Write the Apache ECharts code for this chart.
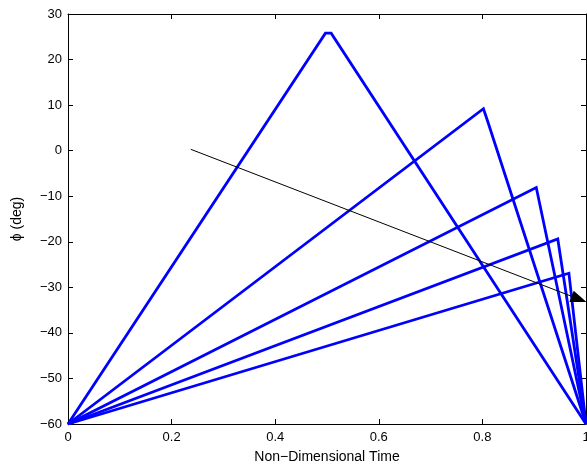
<!DOCTYPE html>
<html>
<head>
<meta charset="utf-8">
<script src="https://cdn.jsdelivr.net/npm/echarts@6/dist/echarts.min.js"></script>
<style>
  html, body { margin: 0; padding: 0; background: #fff; }
  #chart { width: 587px; height: 467px; }
</style>
</head>
<body>
<div id="chart"></div>
<script>
// Phase angle trajectories over non-dimensional time
const traj1 = [[0, -60], [0.497, 25.8], [0.508, 25.8], [1, -60]];
const traj2 = [[0, -60], [0.802, 9.2], [0.81, 6.5], [1, -60]];
const traj3 = [[0, -60], [0.904, -8.1], [1, -60]];
const traj4 = [[0, -60], [0.9455, -19.4], [1, -60]];
const traj5 = [[0, -60], [0.967, -26.9], [1, -60]];
const trajectories = [traj1, traj2, traj3, traj4, traj5];

// Trend arrow (start, end) in data units; the head is centred on the end point
const arrowStart = [0.237, 0.3];
const arrowEnd = [0.9865, -32.6];

const xTicks = { min: 0, max: 1, interval: 0.2 };
const yTicks = { min: -60, max: 30, interval: 10 };

const FONT = '"Liberation Sans", Arial, Helvetica, sans-serif';
const minus = v => String(v).replace('-', '\u2212');

const chart = echarts.init(document.getElementById('chart'));

const series = trajectories.map(d => ({
  type: 'line',
  data: d,
  showSymbol: false,
  symbol: 'none',
  clip: false,
  lineStyle: { color: '#0000ff', width: 2.8, join: 'miter' },
  z: 2
}));

series.push({
  type: 'line',
  data: [],
  markLine: {
    silent: true,
    animation: false,
    symbol: ['none', 'triangle'],
    symbolSize: [12, 16],
    label: { show: false },
    lineStyle: { color: '#000', width: 1, type: 'solid' },
    data: [[{ coord: arrowStart }, { coord: arrowEnd }]]
  },
  z: 3
});

const axisCommon = {
  type: 'value',
  axisLine: { show: true, onZero: false, lineStyle: { color: '#000', width: 1 } },
  axisTick: { show: true, inside: true, length: 5, lineStyle: { color: '#000' } },
  splitLine: { show: false }
};

chart.setOption({
  animation: false,
  backgroundColor: '#fff',
  grid: { left: 68, right: 1, top: 14, bottom: 43, containLabel: false, outerBoundsMode: 'none' },
  xAxis: [
    Object.assign({}, axisCommon, {
      position: 'bottom',
      min: xTicks.min, max: xTicks.max, interval: xTicks.interval,
      name: 'Non\u2212Dimensional Time',
      nameLocation: 'middle',
      nameGap: 26,
      nameTextStyle: { fontFamily: FONT, fontSize: 14, color: '#000' },
      axisLabel: { fontFamily: FONT, fontSize: 13, color: '#000', margin: 7,
        formatter: v => minus(v) }
    }),
    Object.assign({}, axisCommon, {
      position: 'top',
      min: xTicks.min, max: xTicks.max, interval: xTicks.interval,
      axisLabel: { show: false }
    })
  ],
  yAxis: [
    Object.assign({}, axisCommon, {
      position: 'left',
      min: yTicks.min, max: yTicks.max, interval: yTicks.interval,
      name: '\u03d5 (deg)',
      nameLocation: 'middle',
      nameGap: 44,
      nameRotate: 90,
      nameTextStyle: { fontFamily: FONT, fontSize: 14, color: '#000' },
      axisLabel: { fontFamily: FONT, fontSize: 13, color: '#000', margin: 6,
        formatter: v => minus(v) }
    }),
    Object.assign({}, axisCommon, {
      position: 'right',
      min: yTicks.min, max: yTicks.max, interval: yTicks.interval,
      axisLabel: { show: false }
    })
  ],
  series: series
});
</script>
</body>
</html>
